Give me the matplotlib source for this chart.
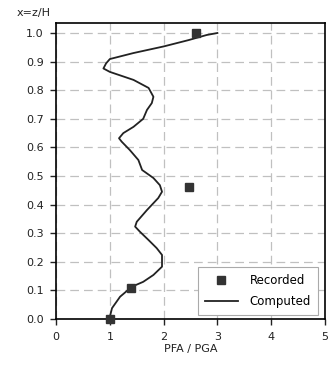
"""Normalised peak floor acceleration profile: recorded vs computed."""

import matplotlib
matplotlib.use('Agg')
import matplotlib.pyplot as plt

plt.rcParams['font.family'] = ['DejaVu Sans']

# computed profile (PFA/PGA vs normalised height)
computed_x = [1.0, 1.0, 1.04, 1.19, 1.41, 1.62, 1.81, 1.97, 1.97, 1.87, 1.72,
              1.56, 1.47, 1.5, 1.69, 1.9, 1.97, 1.93, 1.81, 1.6, 1.53, 1.37,
              1.22, 1.17, 1.25, 1.44, 1.62, 1.69, 1.78, 1.81, 1.72, 1.44,
              1.0, 0.88, 0.93, 1.0, 1.44, 2.0, 2.46, 2.8, 3.0]
computed_y = [0.0, 0.008, 0.038, 0.078, 0.113, 0.13, 0.154, 0.183, 0.224,
              0.248, 0.276, 0.305, 0.323, 0.34, 0.381, 0.423, 0.445, 0.468,
              0.493, 0.521, 0.556, 0.591, 0.62, 0.632, 0.65, 0.672, 0.7,
              0.731, 0.755, 0.777, 0.808, 0.836, 0.864, 0.876, 0.894, 0.909,
              0.93, 0.953, 0.975, 0.993, 1.0]

# recorded points
recorded_x = [1.0, 1.4, 2.47, 2.6]
recorded_y = [0.0, 0.11, 0.46, 1.0]

x_ticks = [0, 1, 2, 3, 4, 5]
y_ticks = [0.0, 0.1, 0.2, 0.3, 0.4, 0.5, 0.6, 0.7, 0.8, 0.9, 1.0]

fig = plt.figure(figsize=(3.36, 3.65), dpi=100)
ax = fig.add_axes([0.167, 0.126, 0.8, 0.811])

ax.plot(computed_x, computed_y, color='#222222', linewidth=1.3,
        label='Computed', zorder=3)
ax.plot(recorded_x, recorded_y, linestyle='none', marker='s', markersize=6,
        color='#333333', label='Recorded', zorder=4, clip_on=False)

ax.set_xlim(0, 5)
ax.set_ylim(0, 1.035)
ax.set_xticks(x_ticks)
ax.set_yticks(y_ticks)
ax.set_yticklabels(['%.1f' % v for v in y_ticks])
ax.grid(True, color='#c0c0c0', linestyle=(0, (7, 4)), linewidth=0.9)
ax.tick_params(direction='out', length=4, width=1, pad=5, labelsize=8,
               colors='#222222')
for s in ax.spines.values():
  s.set_color('black')
  s.set_linewidth(1.2)

ax.set_xlabel('PFA / PGA', fontsize=8, color='#222222', labelpad=2)
fig.text(0.05, 0.965, 'x=z/H', fontsize=8, color='#222222', va='center')

h, l = ax.get_legend_handles_labels()
leg = ax.legend(h[::-1], l[::-1], loc='lower right', fontsize=8.5,
                fancybox=False, edgecolor='#aaaaaa', framealpha=1,
                borderpad=0.6, labelspacing=0.7, handlelength=2.8,
                handletextpad=1.0, borderaxespad=0,
                bbox_to_anchor=(0.974, 0.0135))
leg.get_frame().set_linewidth(0.8)

fig.savefig('out.png', dpi=100)
